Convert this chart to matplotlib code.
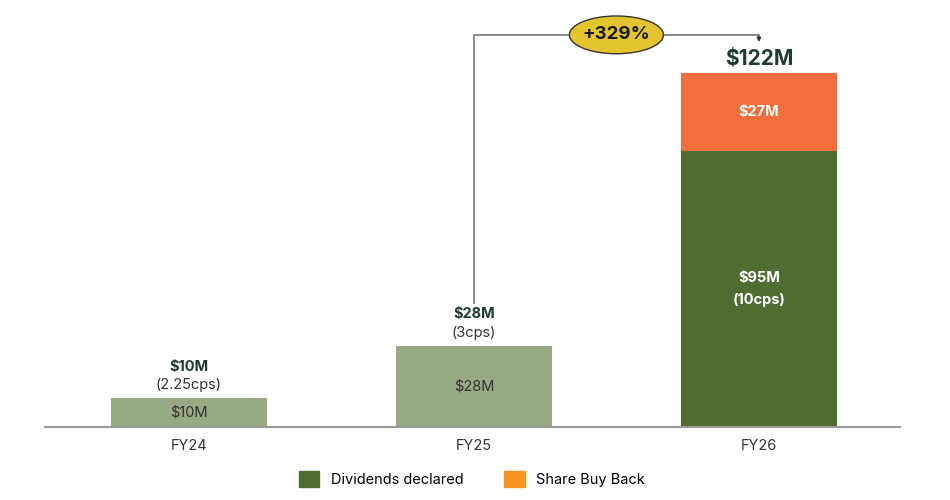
import matplotlib.pyplot as plt
from matplotlib.patches import Patch, Ellipse

plt.rcParams['font.family'] = ['Inter', 'DejaVu Sans']

years = ['FY24', 'FY25', 'FY26']
dividends = [10, 28, 95]
buyback = [0, 0, 27]
cps = ['(2.25cps)', '(3cps)', '(10cps)']
growth = '+329%'

light_green = '#98AA84'
dark_green = '#4F6D32'
orange = '#F26F3D'
legend_orange = '#F7941D'
text_dark = '#1E3A32'

fig = plt.figure(figsize=(9.5, 5), dpi=100)
ax = fig.add_axes([45 / 950, 73 / 500, 855 / 950, 427 / 500])

x = list(range(len(years)))
div_colors = [light_green, light_green, dark_green]
ax.bar(x, dividends, width=0.55, color=div_colors)
ax.bar(x, buyback, width=0.55, bottom=dividends, color=orange)

ax.set_xlim(-0.505, 2.495)
ax.set_ylim(0, 147)

# labels on the light bars (FY24, FY25)
for i in range(2):
    v = dividends[i]
    ax.text(i, v / 2, f'${v}M', ha='center', va='center', fontsize=10.5, color='#333333')
    ax.text(i, v + 10.8, f'${v}M', ha='center', va='center', fontsize=10.5,
            fontweight='bold', color=text_dark)
    ax.text(i, v + 4.3, cps[i], ha='center', va='center', fontsize=10.5, color='#333333')

# FY26 stacked labels
total = dividends[2] + buyback[2]
ax.text(2, dividends[2] / 2 + 3.9, f'${dividends[2]}M', ha='center', va='center',
        fontsize=10.5, fontweight='bold', color='white')
ax.text(2, dividends[2] / 2 - 3.7, cps[2], ha='center', va='center',
        fontsize=10.5, fontweight='bold', color='white')
ax.text(2, dividends[2] + buyback[2] / 2, f'${buyback[2]}M', ha='center', va='center',
        fontsize=10.5, fontweight='bold', color='white')
ax.text(2, total + 4.6, f'${total}M', ha='center', va='center',
        fontsize=15, fontweight='bold', color=text_dark)

# growth bracket
y_top = 135
ax.plot([1, 1, 2], [dividends[1] + 14.5, y_top, y_top], color='#777777', lw=1.2,
        solid_capstyle='butt')
ax.annotate('', xy=(2, y_top - 2.5), xytext=(2, y_top),
            arrowprops=dict(arrowstyle='-|>', color='#333333', lw=1, mutation_scale=6,
                            shrinkA=0, shrinkB=0))
ax.add_patch(Ellipse((1.5, y_top), 0.33, 13, facecolor='#E3C42F', edgecolor='#333333',
                     lw=1, zorder=3))
ax.text(1.5, y_top, growth, ha='center', va='center', fontsize=13.5,
        fontweight='bold', color='#1a1a1a', zorder=4)

for s in ['top', 'right', 'left']:
    ax.spines[s].set_visible(False)
ax.spines['bottom'].set_color('#999999')
ax.spines['bottom'].set_linewidth(1.5)
ax.set_yticks([])
ax.set_xticks(x)
ax.set_xticklabels(years, fontsize=10.5, color='#333333')
ax.tick_params(axis='x', length=0, pad=9)

handles = [Patch(color=dark_green, label='Dividends declared'),
           Patch(color=legend_orange, label='Share Buy Back')]
fig.legend(handles=handles, loc='center', bbox_to_anchor=(472 / 950, 1 - 479 / 500),
           ncol=2, frameon=False, fontsize=10.5, handlelength=1.4, handleheight=1.4,
           columnspacing=2.8, handletextpad=0.8)

fig.savefig('out.png', dpi=100)
